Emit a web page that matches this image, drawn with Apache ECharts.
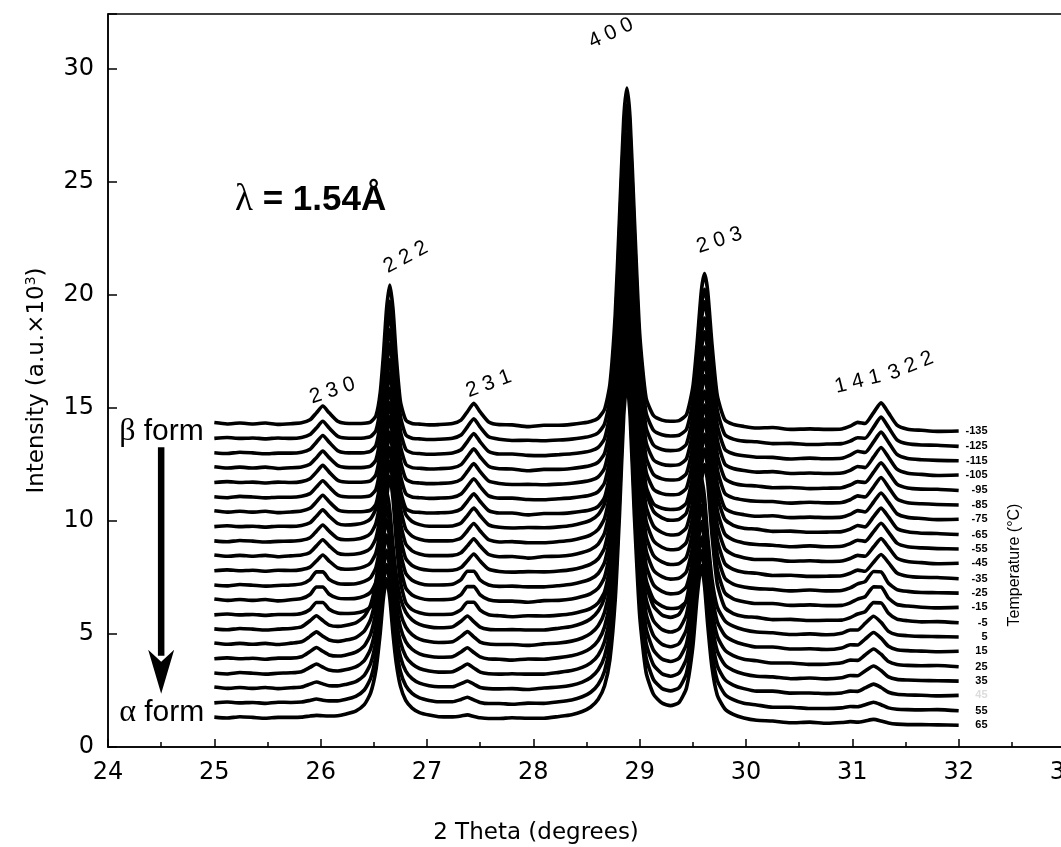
<!DOCTYPE html>
<html>
<head>
<meta charset="utf-8">
<script src="https://cdn.jsdelivr.net/npm/echarts@6/dist/echarts.min.js"></script>
<style>
  html, body { margin: 0; padding: 0; background: #fff; }
  #chart { width: 1061px; height: 847px; }
</style>
</head>
<body>
<div id="chart"></div>
<script>
// 2-theta sampling positions (degrees), shared by every scan
const twoTheta = [25.00,25.12,25.24,25.36,25.48,25.60,25.72,25.82,25.90,25.96,
  26.02,26.08,26.16,26.23,26.33,26.41,26.47,26.52,26.56,26.59,
  26.62,26.65,26.68,26.71,26.75,26.80,26.86,26.93,27.02,27.11,
  27.24,27.32,27.38,27.44,27.50,27.58,27.68,27.80,27.95,28.10,
  28.24,28.36,28.46,28.54,28.61,28.67,28.72,28.77,28.81,28.85,
  28.88,28.91,28.95,29.00,29.06,29.13,29.21,29.29,29.37,29.44,
  29.50,29.54,29.58,29.61,29.64,29.68,29.73,29.80,29.88,29.98,
  30.10,30.25,30.42,30.60,30.76,30.90,30.98,31.05,31.12,31.20,
  31.27,31.34,31.42,31.52,31.65,31.80,32.00];

// scan temperatures (°C), top scan first
const temperatures = [-135,-125,-115,-105,-95,-85,-75,-65,-55,-45,-35,-25,-15,-5,5,15,25,35,45,55,65];

// vertical offset of each scan in the waterfall (a.u. x 10^3)
const offsets = [14.30,13.65,13.00,12.35,11.70,11.05,10.40,9.75,9.10,8.45,7.80,7.15,6.50,5.85,5.20,4.55,3.90,3.25,2.60,1.95,1.30];

// intensity of each scan above its offset, one row per temperature
const scans = [
 [0.04,-0.02,0.02,-0.02,0.02,-0.04,-0.01,0.03,0.16,0.47,0.77,0.47,0.10,0.01,0.00,
  0.01,0.07,0.34,1.36,3.02,5.08,6.12,5.07,3.01,0.97,0.16,0.00,-0.03,-0.06,
  -0.05,0.00,0.15,0.52,0.89,0.51,0.07,-0.05,-0.06,-0.14,-0.08,
  -0.08,-0.04,0.02,0.09,0.24,0.63,1.72,4.80,9.08,13.46,14.83,13.46,9.08,3.98,1.13,0.35,0.15,0.10,0.13,0.39,1.61,3.53,5.85,6.63,5.84,3.51,1.23,0.17,-0.04,-0.13,
  -0.20,-0.18,-0.26,-0.24,-0.26,-0.24,-0.12,0.05,0.00,0.48,0.91,0.47,-0.07,-0.25,-0.30,-0.35,-0.33],
 [-0.01,0.03,-0.01,0.01,-0.03,0.01,-0.01,0.03,0.16,0.45,0.75,0.45,0.09,0.01,0.00,
  0.01,0.07,0.34,1.36,3.02,5.08,6.05,5.07,3.01,0.97,0.16,0.00,-0.03,-0.06,
  -0.05,0.00,0.14,0.50,0.86,0.49,0.06,-0.05,-0.10,-0.09,-0.11,
  -0.08,-0.04,0.02,0.09,0.24,0.63,1.72,4.80,9.08,13.46,14.72,13.46,9.08,3.98,1.13,0.35,0.15,0.10,0.13,0.39,1.61,3.53,5.85,6.58,5.84,3.51,1.23,0.17,-0.04,-0.13,
  -0.16,-0.24,-0.23,-0.28,-0.26,-0.24,-0.13,0.02,0.00,0.49,0.93,0.48,-0.07,-0.25,-0.30,-0.31,-0.36],
 [0.01,-0.03,0.03,0.00,-0.04,-0.01,-0.01,0.03,0.16,0.47,0.77,0.47,0.10,0.01,0.00,
  0.01,0.07,0.34,1.36,3.02,5.08,6.16,5.07,3.01,0.97,0.16,0.00,-0.03,-0.06,
  -0.05,0.00,0.14,0.50,0.86,0.49,0.06,-0.05,-0.05,-0.11,-0.12,
  -0.08,-0.04,0.02,0.09,0.24,0.63,1.72,4.80,9.08,13.46,14.88,13.46,9.08,3.98,1.13,0.35,0.15,0.10,0.13,0.39,1.61,3.53,5.85,6.68,5.84,3.51,1.23,0.17,-0.04,-0.13,
  -0.19,-0.20,-0.27,-0.23,-0.26,-0.24,-0.10,0.07,0.02,0.49,0.92,0.47,-0.07,-0.25,-0.30,-0.33,-0.35],
 [0.04,-0.02,0.02,-0.02,0.02,-0.04,-0.01,0.03,0.15,0.44,0.73,0.44,0.09,0.01,0.00,
  0.01,0.07,0.34,1.36,3.02,5.08,6.10,5.07,3.01,0.97,0.16,0.00,-0.03,-0.06,
  -0.05,-0.01,0.13,0.48,0.83,0.47,0.06,-0.05,-0.06,-0.14,-0.08,
  -0.08,-0.04,0.02,0.09,0.24,0.63,1.72,4.80,9.08,13.46,14.78,13.46,9.08,3.98,1.13,0.35,0.15,0.10,0.13,0.39,1.61,3.53,5.85,6.61,5.84,3.51,1.23,0.17,-0.04,-0.13,
  -0.20,-0.18,-0.26,-0.24,-0.26,-0.24,-0.12,0.05,0.00,0.47,0.89,0.46,-0.07,-0.25,-0.30,-0.35,-0.33],
 [-0.01,0.03,-0.01,0.01,-0.03,0.01,-0.01,0.03,0.16,0.45,0.75,0.45,0.09,0.01,0.00,
  0.01,0.07,0.34,1.36,3.02,5.08,6.12,5.07,3.01,0.97,0.16,0.00,-0.03,-0.06,
  -0.05,-0.01,0.13,0.48,0.83,0.47,0.06,-0.05,-0.10,-0.09,-0.11,
  -0.08,-0.04,0.02,0.09,0.24,0.63,1.72,4.80,9.08,13.46,14.83,13.46,9.08,3.98,1.13,0.35,0.15,0.10,0.13,0.39,1.61,3.53,5.85,6.65,5.84,3.51,1.23,0.17,-0.04,-0.13,
  -0.16,-0.24,-0.23,-0.28,-0.26,-0.24,-0.12,0.03,-0.01,0.45,0.86,0.44,-0.08,-0.25,-0.30,-0.31,-0.36],
 [0.01,-0.03,0.03,0.00,-0.04,-0.01,-0.01,0.03,0.15,0.44,0.72,0.44,0.09,0.01,0.00,
  0.01,0.07,0.34,1.36,3.02,5.08,6.08,5.07,3.01,0.97,0.16,0.00,-0.03,-0.06,
  -0.05,-0.01,0.13,0.47,0.81,0.46,0.05,-0.05,-0.05,-0.11,-0.12,
  -0.08,-0.04,0.02,0.09,0.24,0.63,1.72,4.80,9.08,13.46,14.80,13.46,9.08,3.98,1.13,0.35,0.15,0.10,0.13,0.39,1.61,3.53,5.85,6.63,5.84,3.51,1.23,0.17,-0.04,-0.13,
  -0.19,-0.20,-0.27,-0.23,-0.26,-0.24,-0.12,0.05,0.00,0.45,0.86,0.44,-0.08,-0.25,-0.30,-0.33,-0.35],
 [0.04,-0.02,0.02,-0.02,0.02,-0.04,-0.01,0.03,0.15,0.44,0.73,0.44,0.09,0.01,0.00,
  0.01,0.07,0.34,1.36,3.02,5.08,6.14,5.07,3.01,0.97,0.16,0.00,-0.03,-0.06,
  -0.05,-0.01,0.12,0.46,0.79,0.45,0.05,-0.06,-0.06,-0.14,-0.08,
  -0.08,-0.04,0.02,0.09,0.24,0.63,1.72,4.80,9.08,13.46,14.85,13.46,9.08,3.98,1.13,0.35,0.15,0.10,0.13,0.39,1.61,3.53,5.85,6.60,5.84,3.51,1.23,0.17,-0.04,-0.13,
  -0.20,-0.18,-0.26,-0.24,-0.26,-0.24,-0.12,0.05,-0.01,0.43,0.83,0.42,-0.09,-0.25,-0.30,-0.35,-0.33],
 [-0.01,0.03,-0.01,0.01,-0.03,0.01,0.00,0.04,0.16,0.45,0.73,0.45,0.13,0.06,0.09,
  0.17,0.34,0.79,1.83,3.31,5.13,6.10,5.12,3.30,1.47,0.53,0.22,0.08,0.01,
  0.01,0.02,0.15,0.48,0.81,0.47,0.07,-0.04,-0.07,-0.05,-0.06,
  -0.02,0.04,0.15,0.28,0.52,1.01,2.12,4.98,9.00,13.39,14.80,13.39,9.00,4.24,1.56,0.67,0.38,0.27,0.31,0.60,1.76,3.56,5.85,6.67,5.83,3.52,1.36,0.32,0.05,-0.08,
  -0.12,-0.22,-0.21,-0.26,-0.25,-0.23,-0.12,0.04,-0.02,0.43,0.81,0.42,-0.09,-0.24,-0.30,-0.31,-0.36],
 [0.01,-0.03,0.03,0.00,-0.04,-0.01,0.00,0.04,0.15,0.44,0.71,0.44,0.12,0.06,0.08,
  0.17,0.34,0.79,1.83,3.31,5.13,6.12,5.12,3.30,1.47,0.53,0.22,0.08,0.01,
  0.01,0.02,0.14,0.46,0.78,0.45,0.06,-0.04,-0.02,-0.07,-0.07,
  -0.02,0.04,0.15,0.28,0.52,1.01,2.12,4.98,9.00,13.39,14.80,13.39,9.00,4.24,1.56,0.67,0.38,0.27,0.31,0.60,1.76,3.56,5.85,6.62,5.83,3.52,1.36,0.32,0.05,-0.08,
  -0.15,-0.18,-0.25,-0.21,-0.25,-0.23,-0.11,0.04,-0.01,0.42,0.79,0.40,-0.09,-0.25,-0.30,-0.33,-0.35],
 [0.04,-0.02,0.02,-0.02,0.02,-0.04,0.00,0.04,0.15,0.44,0.71,0.44,0.12,0.06,0.08,
  0.17,0.34,0.79,1.83,3.31,5.13,6.16,5.12,3.30,1.47,0.53,0.22,0.08,0.01,
  0.01,0.02,0.14,0.44,0.75,0.43,0.06,-0.04,-0.03,-0.10,-0.03,
  -0.02,0.04,0.15,0.28,0.52,1.01,2.12,4.98,9.00,13.39,14.88,13.39,9.00,4.24,1.56,0.67,0.38,0.27,0.31,0.60,1.76,3.56,5.85,6.67,5.83,3.52,1.36,0.32,0.05,-0.08,
  -0.16,-0.16,-0.24,-0.22,-0.25,-0.23,-0.12,0.02,-0.02,0.40,0.76,0.38,-0.10,-0.25,-0.30,-0.35,-0.33],
 [-0.01,0.03,-0.01,0.01,-0.03,0.01,0.00,0.04,0.15,0.42,0.69,0.42,0.12,0.06,0.08,
  0.17,0.34,0.79,1.83,3.31,5.13,6.12,5.12,3.30,1.47,0.53,0.22,0.08,0.01,
  0.00,0.01,0.13,0.43,0.73,0.42,0.06,-0.04,-0.07,-0.05,-0.06,
  -0.02,0.04,0.15,0.28,0.52,1.01,2.12,4.98,9.00,13.39,14.78,13.39,9.00,4.24,1.56,0.67,0.38,0.27,0.31,0.60,1.76,3.56,5.85,6.70,5.83,3.52,1.36,0.32,0.05,-0.08,
  -0.12,-0.22,-0.21,-0.26,-0.25,-0.23,-0.12,0.02,-0.03,0.37,0.71,0.35,-0.11,-0.25,-0.30,-0.31,-0.36],
 [0.01,-0.03,0.03,0.00,-0.04,-0.01,0.01,0.06,0.25,0.59,0.59,0.26,0.08,0.05,0.07,
  0.17,0.34,0.79,1.83,3.31,5.13,6.08,5.12,3.30,1.47,0.53,0.22,0.08,0.01,
  0.01,0.04,0.25,0.62,0.62,0.23,0.01,-0.05,-0.04,-0.07,-0.07,
  -0.02,0.04,0.15,0.28,0.52,1.01,2.12,4.98,9.00,13.39,14.85,13.39,9.00,4.24,1.56,0.67,0.38,0.27,0.31,0.60,1.76,3.56,5.85,6.67,5.83,3.52,1.36,0.32,0.05,-0.08,
  -0.15,-0.18,-0.25,-0.21,-0.25,-0.23,-0.12,0.06,0.16,0.61,0.59,0.09,-0.19,-0.27,-0.32,-0.33,-0.35],
 [0.04,-0.02,0.02,-0.02,0.02,-0.04,0.01,0.06,0.24,0.57,0.57,0.25,0.08,0.05,0.07,
  0.17,0.34,0.79,1.83,3.31,5.13,6.14,5.12,3.30,1.47,0.53,0.22,0.08,0.01,
  0.01,0.04,0.24,0.59,0.59,0.22,0.01,-0.05,-0.05,-0.10,-0.03,
  -0.02,0.04,0.15,0.28,0.52,1.01,2.12,4.98,9.00,13.39,14.84,13.39,9.00,4.24,1.56,0.67,0.38,0.27,0.31,0.60,1.76,3.56,5.85,6.67,5.83,3.52,1.36,0.32,0.05,-0.08,
  -0.16,-0.16,-0.24,-0.22,-0.25,-0.24,-0.13,0.04,0.14,0.58,0.57,0.08,-0.20,-0.27,-0.32,-0.35,-0.33],
 [-0.01,0.03,-0.01,0.01,-0.03,0.01,0.01,0.05,0.23,0.54,0.54,0.24,0.07,0.05,0.07,
  0.17,0.34,0.79,1.83,3.31,5.13,6.12,5.12,3.30,1.47,0.53,0.22,0.08,0.01,
  0.01,0.03,0.22,0.55,0.55,0.20,0.00,-0.05,-0.09,-0.05,-0.06,
  -0.02,0.04,0.15,0.28,0.52,1.01,2.12,4.98,9.00,13.39,14.82,13.39,9.00,4.24,1.56,0.67,0.38,0.27,0.31,0.60,1.76,3.56,5.85,6.64,5.83,3.52,1.36,0.32,0.05,-0.08,
  -0.12,-0.22,-0.21,-0.26,-0.25,-0.24,-0.13,0.03,0.13,0.53,0.52,0.06,-0.20,-0.27,-0.32,-0.31,-0.36],
 [0.02,-0.02,0.04,0.01,-0.03,0.01,0.04,0.11,0.38,0.60,0.39,0.19,0.13,0.17,0.29,
  0.57,1.09,2.12,3.73,5.28,6.12,5.28,3.71,2.44,1.39,0.76,0.42,0.22,0.11,
  0.07,0.11,0.36,0.59,0.34,0.10,0.00,-0.02,-0.01,-0.03,-0.03,
  0.05,0.13,0.27,0.47,0.81,1.41,2.56,5.20,8.94,13.33,14.87,13.32,8.94,4.52,2.01,1.03,0.64,0.53,0.67,1.31,3.13,5.31,6.72,5.83,4.10,2.22,0.99,0.39,0.14,-0.02,
  -0.12,-0.15,-0.23,-0.20,-0.24,-0.17,-0.03,-0.03,0.26,0.58,0.31,-0.09,-0.24,-0.28,-0.31,-0.32,-0.34],
 [0.05,-0.01,0.03,-0.01,0.03,-0.02,0.04,0.10,0.34,0.54,0.35,0.18,0.12,0.17,0.29,
  0.57,1.09,2.12,3.73,5.28,6.08,5.28,3.71,2.44,1.39,0.76,0.42,0.22,0.11,
  0.07,0.10,0.34,0.55,0.32,0.09,0.00,-0.02,-0.02,-0.06,0.01,
  0.05,0.13,0.27,0.47,0.81,1.41,2.56,5.20,8.94,13.33,14.80,13.32,8.94,4.52,2.01,1.03,0.64,0.53,0.67,1.31,3.13,5.31,6.72,5.83,4.10,2.22,0.99,0.39,0.14,-0.02,
  -0.13,-0.13,-0.22,-0.21,-0.24,-0.17,-0.03,-0.04,0.22,0.51,0.26,-0.10,-0.25,-0.29,-0.31,-0.34,-0.32],
 [0.00,0.04,0.00,0.02,-0.02,0.03,0.03,0.09,0.32,0.50,0.33,0.17,0.12,0.16,0.29,
  0.57,1.09,2.12,3.73,5.28,6.15,5.28,3.71,2.44,1.39,0.76,0.42,0.22,0.11,
  0.07,0.09,0.30,0.49,0.28,0.08,-0.01,-0.02,-0.06,-0.01,-0.02,
  0.05,0.13,0.27,0.47,0.81,1.41,2.56,5.20,8.94,13.33,14.87,13.32,8.94,4.52,2.01,1.03,0.64,0.53,0.67,1.31,3.13,5.31,6.78,5.83,4.10,2.22,0.99,0.39,0.14,-0.02,
  -0.09,-0.19,-0.19,-0.25,-0.24,-0.18,-0.06,-0.07,0.17,0.43,0.20,-0.12,-0.25,-0.29,-0.31,-0.30,-0.35],
 [0.02,-0.02,0.04,0.01,-0.03,0.01,0.03,0.08,0.27,0.42,0.28,0.15,0.11,0.16,0.29,
  0.57,1.09,2.12,3.73,5.28,6.12,5.28,3.71,2.44,1.39,0.76,0.42,0.22,0.11,
  0.06,0.08,0.26,0.42,0.24,0.06,-0.01,-0.03,-0.01,-0.03,-0.03,
  0.05,0.13,0.27,0.47,0.81,1.41,2.56,5.20,8.94,13.33,14.92,13.32,8.94,4.52,2.01,1.03,0.64,0.53,0.67,1.31,3.13,5.31,6.72,5.83,4.10,2.22,0.99,0.39,0.14,-0.02,
  -0.12,-0.15,-0.23,-0.20,-0.24,-0.19,-0.09,-0.10,0.11,0.33,0.13,-0.15,-0.26,-0.29,-0.31,-0.32,-0.34],
 [0.05,-0.01,0.03,-0.01,0.03,-0.02,0.02,0.05,0.18,0.27,0.19,0.11,0.10,0.16,0.29,
  0.57,1.09,2.12,3.73,5.28,6.10,5.28,3.71,2.44,1.39,0.76,0.42,0.22,0.11,
  0.06,0.06,0.20,0.32,0.18,0.03,-0.02,-0.03,-0.02,-0.06,0.01,
  0.05,0.13,0.27,0.47,0.81,1.41,2.56,5.20,8.94,13.33,14.84,13.32,8.94,4.52,2.01,1.03,0.64,0.53,0.67,1.31,3.13,5.31,6.68,5.83,4.10,2.22,0.99,0.39,0.14,-0.02,
  -0.13,-0.13,-0.22,-0.21,-0.24,-0.21,-0.13,-0.14,0.01,0.18,0.03,-0.18,-0.27,-0.30,-0.31,-0.34,-0.32],
 [0.00,0.04,0.00,0.02,-0.02,0.03,0.02,0.04,0.11,0.17,0.12,0.09,0.09,0.15,0.29,
  0.57,1.09,2.12,3.73,5.28,6.12,5.28,3.71,2.44,1.39,0.76,0.42,0.22,0.11,
  0.05,0.05,0.15,0.25,0.13,0.02,-0.03,-0.03,-0.06,-0.01,-0.02,
  0.05,0.13,0.27,0.47,0.81,1.41,2.56,5.20,8.94,13.33,14.90,13.32,8.94,4.52,2.01,1.03,0.64,0.53,0.67,1.31,3.13,5.31,6.72,5.83,4.10,2.22,0.99,0.39,0.14,-0.02,
  -0.09,-0.19,-0.19,-0.25,-0.25,-0.22,-0.16,-0.17,-0.08,0.03,-0.08,-0.22,-0.28,-0.30,-0.31,-0.30,-0.35],
 [0.02,-0.02,0.04,0.01,-0.03,0.01,0.01,0.02,0.07,0.10,0.08,0.07,0.08,0.15,0.29,
  0.57,1.09,2.12,3.73,5.28,6.14,5.28,3.71,2.44,1.39,0.76,0.42,0.22,0.11,
  0.04,0.03,0.07,0.12,0.05,-0.01,-0.04,-0.04,-0.01,-0.03,-0.03,
  0.05,0.13,0.27,0.47,0.81,1.41,2.56,5.20,8.94,13.33,14.87,13.32,8.94,4.52,2.01,1.03,0.64,0.53,0.67,1.31,3.13,5.31,6.72,5.83,4.10,2.22,0.99,0.39,0.14,-0.02,
  -0.12,-0.15,-0.23,-0.20,-0.25,-0.22,-0.18,-0.20,-0.15,-0.08,-0.15,-0.24,-0.29,-0.31,-0.31,-0.32,-0.34]
];

// reflection indices
const reflections = ['2 3 0', '2 2 2', '2 3 1', '4 0 0', '2 0 3', '1 4 1', '3 2 2'];
// where each index label sits: [2θ, intensity, tilt in degrees]
const reflectionSpots = [[26.11,15.75,18],[26.80,21.65,28],[27.58,16.05,20],[28.73,31.55,25],[29.75,22.40,18],[31.05,16.15,14],[31.55,16.85,22]];

const SANS = '"DejaVu Sans", Verdana, sans-serif';
const ARIAL = '"Liberation Sans", Arial, sans-serif';
const SERIF = '"Liberation Serif", "Times New Roman", serif';
const chart = echarts.init(document.getElementById('chart'));

// one black trace per temperature, lifted by its waterfall offset
const traces = scans.map((row, i) => ({
  type: 'line',
  name: String(temperatures[i]),
  data: twoTheta.map((x, j) => [x, +(offsets[i] + row[j]).toFixed(3)]),
  symbol: 'none',
  smooth: 0.2,
  silent: true,
  lineStyle: { color: '#000', width: 3.6, join: 'round' },
  z: 3
}));

// invisible anchor points that only carry text
const anchorStyle = { color: 'rgba(0,0,0,0)', opacity: 1 };

// temperature tags at the right-hand end of every trace
const TAG_X = 32.276;
const tags = {
  type: 'scatter', silent: true, symbolSize: 1, itemStyle: anchorStyle,
  data: temperatures.map((t, i) => ({
    value: [TAG_X, offsets[i] + scans[i][scans[i].length - 1]],
    name: String(t),
    label: t === 45 ? { color: '#dcdcdc' } : {}
  })),
  label: { show: true, position: 'left', distance: 0, formatter: p => p.name,
           fontSize: 11, fontWeight: 'bold', fontFamily: ARIAL, color: '#000' },
  z: 5
};

// Miller-index labels above the peaks
const hklTags = {
  type: 'scatter', silent: true, symbolSize: 1, itemStyle: anchorStyle,
  data: reflections.map((r, k) => ({
    value: reflectionSpots[k].slice(0, 2), name: r,
    label: { rotate: reflectionSpots[k][2] }
  })),
  label: { show: true, position: 'inside', formatter: p => p.name,
           fontSize: 21, fontFamily: ARIAL, color: '#000' },
  z: 5
};

// wavelength note and polymorph labels
const notes = {
  type: 'scatter', silent: true, symbolSize: 1, itemStyle: anchorStyle,
  data: [
    { value: [25.19, 24.15], name: 'lambda', label: { formatter: '{g|λ}{b| = 1.54Å}' } },
    { value: [24.10, 13.95], name: 'beta', label: { formatter: '{h|β}{t| form}' } },
    { value: [24.10, 1.50], name: 'alpha', label: { formatter: '{h|α}{t| form}' } }
  ],
  label: {
    show: true, position: 'right', distance: 0, color: '#000',
    rich: {
      g: { fontFamily: SERIF, fontSize: 37, color: '#000' },
      h: { fontFamily: SERIF, fontSize: 32, color: '#000' },
      b: { fontFamily: ARIAL, fontSize: 35, fontWeight: 'bold', color: '#000' },
      t: { fontFamily: ARIAL, fontSize: 30, color: '#000' }
    }
  },
  z: 5
};

chart.setOption({
  animation: false,
  backgroundColor: '#fff',
  grid: { left: 108, top: 14, width: 957, height: 733, show: true, outerBoundsMode: 'none',
          containLabel: false, borderColor: '#000', borderWidth: 1.5, backgroundColor: 'transparent' },
  xAxis: {
    type: 'value', min: 24, max: 33, interval: 1,
    axisLine: { show: true, lineStyle: { color: '#000', width: 1.5 } },
    axisTick: { show: true, inside: true, length: 8, lineStyle: { color: '#000', width: 1.5 } },
    minorTick: { show: true, splitNumber: 2, length: 5, lineStyle: { color: '#000', width: 1.5 } },
    axisLabel: { fontSize: 24, fontFamily: SANS, color: '#000', margin: 14 },
    splitLine: { show: false }
  },
  yAxis: {
    type: 'value', min: 0, max: 32.4, interval: 5,
    name: 'Intensity (a.u.×10{s|3})', nameLocation: 'middle', nameGap: 58,
    nameTextStyle: { fontSize: 23, fontFamily: SANS, color: '#000',
                     rich: { s: { fontSize: 14, fontFamily: SANS, color: '#000', padding: [0, 0, 12, 0] } } },
    axisLine: { show: true, lineStyle: { color: '#000', width: 1.5 } },
    axisTick: { show: true, inside: true, length: 9, lineStyle: { color: '#000', width: 1.5 } },
    axisLabel: { fontSize: 24, fontFamily: SANS, color: '#000', margin: 14,
                 formatter: v => (Math.abs(v % 5) < 1e-9 ? String(v) : '') },
    splitLine: { show: false }
  },
  series: traces.concat([tags, hklTags, notes])
});

// the β → α arrow, placed in axis units
const tail = chart.convertToPixel({ gridIndex: 0 }, [24.5, 13.25]);
const tip = chart.convertToPixel({ gridIndex: 0 }, [24.5, 2.35]);
const headLen = 44, headHalf = 13;
chart.setOption({
  graphic: [
    { type: 'line', silent: true,
      shape: { x1: tail[0], y1: tail[1], x2: tip[0], y2: tip[1] - headLen + 6 },
      style: { stroke: '#000', lineWidth: 6.5 } },
    { type: 'polygon', silent: true,
      shape: { points: [[tip[0], tip[1]], [tip[0] - headHalf, tip[1] - headLen],
                        [tip[0], tip[1] - headLen + 12], [tip[0] + headHalf, tip[1] - headLen]] },
      style: { fill: '#000' } },
    { type: 'text', silent: true, x: 536, y: 833,
      style: { text: '2 Theta (degrees)', font: '23px "DejaVu Sans", Verdana, sans-serif',
               fill: '#000', align: 'center', verticalAlign: 'middle' } },
    { type: 'text', silent: true, x: 1015, y: 565, rotation: Math.PI / 2,
      style: { text: 'Temperature (°C)', font: '16px "Liberation Sans", Arial, sans-serif',
               fill: '#000', align: 'center', verticalAlign: 'middle' } }
  ]
});
</script>
</body>
</html>
